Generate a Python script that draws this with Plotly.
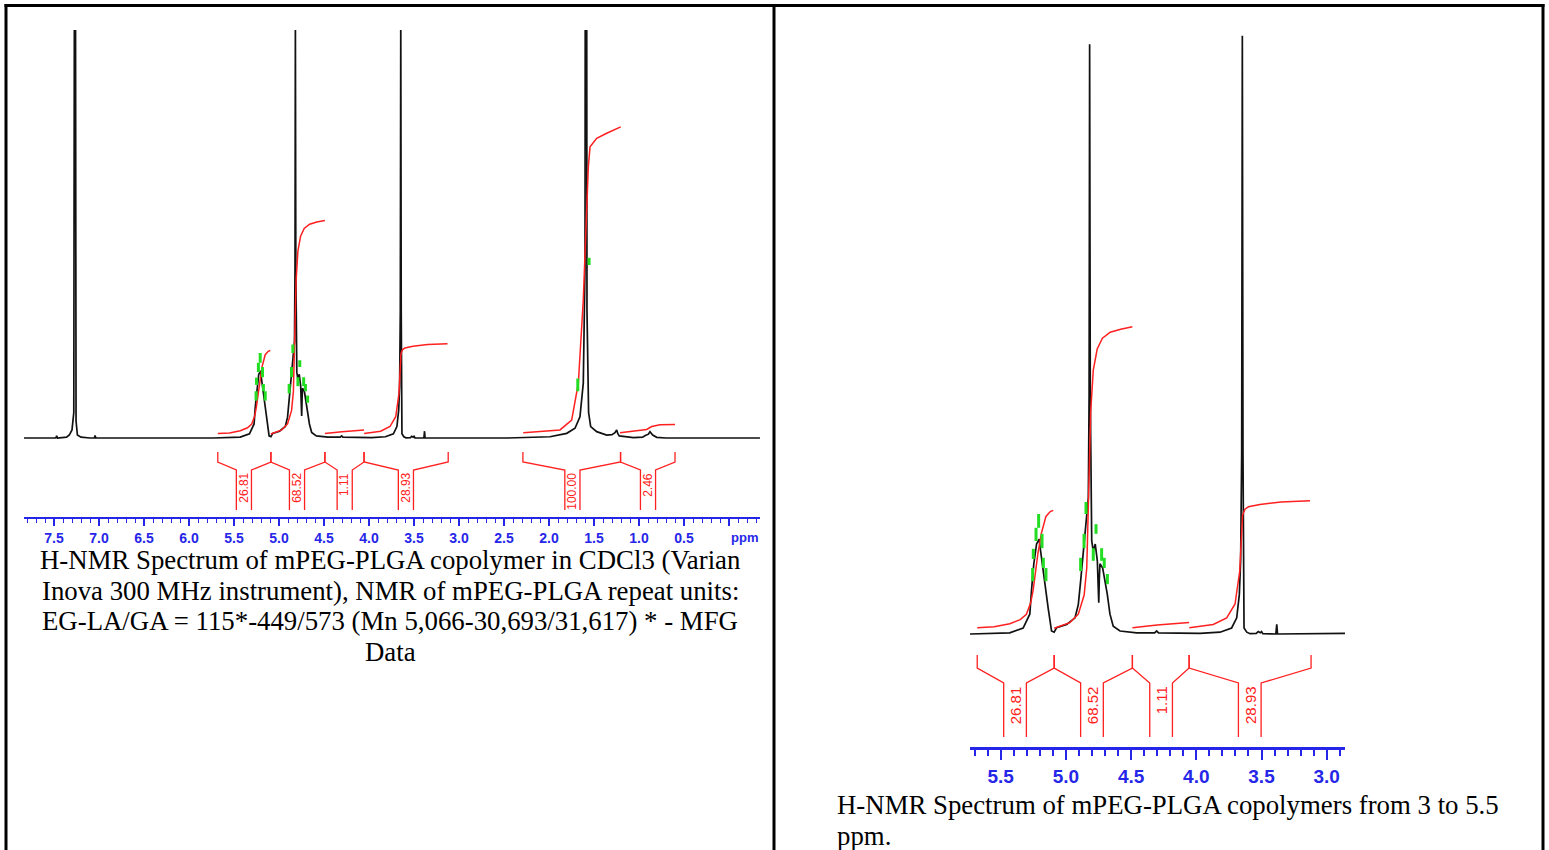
import plotly.graph_objects as go

W, H = 1549, 850

# ---------------- data ----------------
# 1H spectrum trace: chemical shift (ppm) and intensity (arb. units)
spec_ppm = [7.833, 7.48, 7.47, 7.46, 7.36, 7.33, 7.30, 7.28, 7.267, 7.255, 7.24, 7.20, 7.10,
            7.05, 7.044, 7.035, 5.73, 5.50, 5.431, 5.328, 5.277, 5.264, 5.246, 5.225, 5.212,
            5.205, 5.195, 5.187, 5.175, 5.162, 5.136, 5.11, 5.09, 5.071, 4.994, 4.93, 4.905,
            4.887, 4.871, 4.854, 4.841, 4.828, 4.822, 4.818, 4.813, 4.806, 4.802, 4.79, 4.775,
            4.759, 4.752, 4.748, 4.744, 4.739, 4.718, 4.70, 4.683, 4.662, 4.637, 4.585, 4.457,
            4.32, 4.304, 4.29, 3.972, 3.818, 3.729, 3.69, 3.67, 3.66, 3.652, 3.647, 3.642,
            3.634, 3.613, 3.588, 3.54, 3.525, 3.51, 3.50, 3.49, 3.39, 3.383, 3.377, 2.46,
            1.989, 1.803, 1.711, 1.656, 1.619, 1.60, 1.589, 1.578, 1.56, 1.537, 1.47, 1.359,
            1.30, 1.267, 1.248, 1.235, 1.219, 1.063, 0.96, 0.93, 0.915, 0.895, 0.878, 0.848,
            0.803, 0.70, -0.344]
spec_int = [0.0, 0.0, 0.5, 0.0, 0.2, 0.7, 1.9, 6.0, 200.0, 4.0, 0.7, 0.2, 0.0,
            0.0, 0.6, 0.0, 0.0, 0.1, 0.2, 1.0, 3.3, 7.2, 11.7, 15.0, 15.4,
            15.8, 14.0, 12.7, 10.0, 8.8, 4.3, 0.5, 0.3, 1.05, 1.6, 2.7, 4.9,
            8.8, 12.7, 17.2, 20.0, 22.7, 40.0, 98.3, 40.0, 18.0, 15.5, 13.8, 15.0,
            12.2, 9.0, 5.2, 9.0, 11.7, 11.0, 8.8, 6.7, 3.3, 1.3, 0.5, 0.2,
            0.2, 0.5, 0.2, 0.1, 0.3, 1.0, 2.7, 6.6, 12.2, 30.0, 99.7, 30.0,
            1.0, 0.3, 0.05, 0.1, 0.4, 0.2, 0.4, 0.05, 0.0, 1.6, 0.0, 0.0,
            0.3, 1.1, 2.3, 5.0, 12.9, 40.0, 300.0, 30.0, 6.0, 2.7, 1.5, 0.7,
            0.8, 1.25, 1.9, 1.0, 0.5, 0.1, 0.2, 0.6, 0.7, 0.9, 1.5, 0.7,
            0.15, 0.0, 0.0]

# integration regions, values and label positions
int_start = [5.68, 5.09, 4.49, 4.055, 2.29, 1.205]
int_end = [5.09, 4.49, 4.055, 3.12, 1.205, 0.60]
int_text = ["26.81", "68.52", "1.11", "28.93", "100.00", "2.46"]
int_label_ppm = [5.39, 4.80, 4.27, 3.59, 1.74, 0.90]

# integral curves (running integral, same units as spectrum)
int1_ppm = [5.68, 5.55, 5.43, 5.35, 5.303, 5.27, 5.252, 5.232, 5.214, 5.188, 5.153, 5.12, 5.097]
int1_val = [1.05, 1.2, 1.7, 2.4, 3.3, 5.2, 7.2, 10.5, 13.5, 16.8, 19.6, 20.4, 20.6]
int2_ppm = [5.09, 4.97, 4.905, 4.86, 4.84, 4.83, 4.82, 4.81, 4.79, 4.76, 4.72, 4.66, 4.58, 4.49]
int2_val = [0.95, 1.9, 3.3, 6.5, 11.0, 18.0, 28.0, 37.0, 44.0, 47.5, 49.3, 50.3, 50.8, 51.2]
int3_ppm = [4.49, 4.30, 4.055]
int3_val = [1.05, 1.5, 1.9]
int4_ppm = [4.054, 3.87, 3.767, 3.703, 3.667, 3.652, 3.645, 3.627, 3.60, 3.512, 3.35, 3.128]
int4_val = [1.05, 1.6, 2.7, 5.0, 10.5, 18.3, 19.8, 20.8, 21.2, 21.6, 22.0, 22.2]
int5_ppm = [2.286, 1.878, 1.748, 1.674, 1.619, 1.589, 1.563, 1.544, 1.47, 1.359, 1.267, 1.203]
int5_val = [1.25, 1.9, 4.2, 12.9, 32.5, 48.0, 63.8, 68.5, 70.5, 71.7, 72.5, 73.2]
int6_ppm = [1.211, 0.915, 0.859, 0.767, 0.60]
int6_val = [1.25, 2.0, 2.7, 3.1, 3.2]

# green peak-pick marks
green_ppm = [5.255, 5.25, 5.229, 5.209, 5.183, 5.173, 5.153, 4.887, 4.861, 4.846,
             4.79, 4.769, 4.726, 4.706, 4.682, 1.68, 1.555]
green_lo = [8.8, 12.5, 15.5, 17.7, 14.3, 11.0, 8.8, 10.5, 14.3, 20.0,
            12.2, 16.7, 12.2, 11.0, 8.3, 11.0, 40.7]
green_hi = [11.0, 14.2, 17.7, 20.0, 16.7, 12.7, 11.0, 12.7, 16.7, 22.0,
            14.3, 18.3, 14.3, 12.7, 10.0, 14.0, 42.4]

left_tickvals = [7.5, 7.0, 6.5, 6.0, 5.5, 5.0, 4.5, 4.0, 3.5, 3.0, 2.5, 2.0, 1.5, 1.0, 0.5, 0.0]
left_ticktext = ["7.5", "7.0", "6.5", "6.0", "5.5", "5.0", "4.5", "4.0", "3.5", "3.0",
                 "2.5", "2.0", "1.5", "1.0", "0.5", ""]
right_tickvals = [5.5, 5.0, 4.5, 4.0, 3.5, 3.0]
right_ticktext = ["5.5", "5.0", "4.5", "4.0", "3.5", "3.0"]

caption_left = ["H-NMR Spectrum of mPEG-PLGA copolymer in CDCl3 (Varian",
                "Inova 300 MHz instrument), NMR of mPEG-PLGA repeat units:",
                "EG-LA/GA = 115*-449/573 (Mn 5,066-30,693/31,617) * - MFG",
                "Data"]
caption_right = ["H-NMR Spectrum of mPEG-PLGA copolymers from 3 to 5.5",
                 "ppm."]

# ---------------- styling / geometry ----------------
BLUE = "#2626e8"
RED = "#ff2020"
GREEN = "#22dd22"
SERIF = "Liberation Serif, Times New Roman, serif"
SANS = "Liberation Sans, Arial, sans-serif"


def pxx(p):
    return p / W


def pxy(p):
    return 1 - p / H


# panel pixel geometry
L = dict(x0=24, x1=760, top=30, axis=517, base=438, scale=4.25, ppm0=7.8333, ppm1=-0.3444,
         ends_top=452, bend=462, bar_top=470, bar_bot=510, lab_font=12, hw=0.084, xa="x", ya="y")
R = dict(x0=970, x1=1345, top=30, axis=747, base=634, scale=6.0, ppm0=5.7354, ppm1=2.8597,
         ends_top=655, bend=668, bar_top=683, bar_bot=737, lab_font=15, hw=0.087, xa="x2", ya="y2")


def u(P, py):
    return (P["base"] - py) / P["scale"]


fig = go.Figure()
integrals = [(int1_ppm, int1_val), (int2_ppm, int2_val), (int3_ppm, int3_val),
             (int4_ppm, int4_val), (int5_ppm, int5_val), (int6_ppm, int6_val)]

annotations = []
for P in (L, R):
    lo, hi = min(P["ppm0"], P["ppm1"]), max(P["ppm0"], P["ppm1"])
    # spectrum
    fig.add_trace(go.Scatter(x=spec_ppm, y=spec_int, mode="lines",
                             line=dict(color="#111111", width=1.7),
                             xaxis=P["xa"], yaxis=P["ya"], hoverinfo="skip"))
    # integral curves
    ix, iy = [], []
    for xs, ys in integrals:
        if max(xs) <= lo or min(xs) >= hi:
            continue
        ix += list(xs) + [None]
        iy += list(ys) + [None]
    fig.add_trace(go.Scatter(x=ix, y=iy, mode="lines", line=dict(color=RED, width=1.5),
                             xaxis=P["xa"], yaxis=P["ya"], hoverinfo="skip"))
    # green peak marks
    gx, gy = [], []
    for p, a, b in zip(green_ppm, green_lo, green_hi):
        if lo < p < hi:
            gx += [p, p, None]
            gy += [a, b, None]
    fig.add_trace(go.Scatter(x=gx, y=gy, mode="lines", line=dict(color=GREEN, width=3),
                             xaxis=P["xa"], yaxis=P["ya"], hoverinfo="skip"))
    # integral brackets
    bx, by = [], []
    yt, yb, ybt, ybb = u(P, P["ends_top"]), u(P, P["bend"]), u(P, P["bar_top"]), u(P, P["bar_bot"])
    for a, b, c, t in zip(int_start, int_end, int_label_ppm, int_text):
        if not (lo < c < hi):
            continue
        hw = P["hw"]
        bx += [a, a, c + hw, c + hw, None, c - hw, c - hw, b, b, None]
        by += [yt, yb, ybt, ybb, None, ybb, ybt, yb, yt, None]
        annotations.append(dict(x=c, y=ybt - 0.2, xref=P["xa"], yref=P["ya"], text=t,
                                textangle=-90, showarrow=False, xanchor="center", yanchor="top",
                                font=dict(family=SANS, size=P["lab_font"], color=RED)))
    fig.add_trace(go.Scatter(x=bx, y=by, mode="lines", line=dict(color=RED, width=1.3),
                             xaxis=P["xa"], yaxis=P["ya"], hoverinfo="skip"))

axis_common = dict(showline=True, linecolor=BLUE, ticks="outside",
                   tickcolor=BLUE, showgrid=False, zeroline=False, tickmode="array",
                   fixedrange=True)

fig.update_layout(
    width=W, height=H, autosize=False,
    margin=dict(l=0, r=0, t=0, b=0, pad=0),
    paper_bgcolor="white", plot_bgcolor="white",
    showlegend=False,
    xaxis=dict(domain=[pxx(L["x0"]), pxx(L["x1"])], range=[L["ppm0"], L["ppm1"]], anchor="y",
               tickvals=left_tickvals, ticktext=left_ticktext, ticklen=7, tickwidth=1.5,
               linewidth=2, ticklabelstandoff=0,
               tickfont=dict(family=SANS, size=14, color=BLUE, weight="bold"),
               minor=dict(tickmode="linear", tick0=0, dtick=0.1, ticklen=4, tickwidth=1.2,
                          tickcolor=BLUE, ticks="outside"),
               **axis_common),
    yaxis=dict(domain=[pxy(L["axis"]), pxy(L["top"])],
               range=[u(L, L["axis"]), u(L, L["top"])], visible=False, fixedrange=True),
    xaxis2=dict(domain=[pxx(R["x0"]), pxx(R["x1"])], range=[R["ppm0"], R["ppm1"]], anchor="y2",
                tickvals=right_tickvals, ticktext=right_ticktext, ticklen=10, tickwidth=2,
                linewidth=3, ticklabelstandoff=0,
                tickfont=dict(family=SANS, size=19, color=BLUE, weight="bold"),
                minor=dict(tickmode="linear", tick0=0, dtick=0.1, ticklen=6, tickwidth=1.6,
                           tickcolor=BLUE, ticks="outside"),
                **axis_common),
    yaxis2=dict(domain=[pxy(R["axis"]), pxy(R["top"])],
                range=[u(R, R["axis"]), u(R, R["top"])], visible=False, fixedrange=True),
)

# "ppm" unit label at the right end of the left axis
annotations.append(dict(x=pxx(760), y=pxy(537), xref="paper", yref="paper", text="ppm",
                        showarrow=False, xanchor="right", yanchor="middle",
                        font=dict(family=SANS, size=13, color=BLUE, weight="bold")))

# captions
CAP = 26.8
for i, line in enumerate(caption_left):
    annotations.append(dict(x=pxx(390), y=pxy(560 + i * 30.7), xref="paper", yref="paper",
                            text=line, showarrow=False, xanchor="center", yanchor="middle",
                            font=dict(family=SERIF, size=CAP, color="black")))
for i, line in enumerate(caption_right):
    annotations.append(dict(x=pxx(835), y=pxy(805 + i * 31), xref="paper", yref="paper",
                            text=line, showarrow=False, xanchor="left", yanchor="middle",
                            font=dict(family=SERIF, size=CAP, color="black")))
fig.update_layout(annotations=annotations)

# table borders
shapes = []
for x in (6, 774, 1543):
    shapes.append(dict(type="line", xref="paper", yref="paper", x0=pxx(x), x1=pxx(x),
                       y0=pxy(4), y1=pxy(852), line=dict(color="black", width=3)))
shapes.append(dict(type="line", xref="paper", yref="paper", x0=pxx(4.5), x1=pxx(1544.5),
                   y0=pxy(5.5), y1=pxy(5.5), line=dict(color="black", width=3)))
fig.update_layout(shapes=shapes)

fig.write_html("out.html", config={"displayModeBar": False},
               post_script="document.body.style.margin='0';")
